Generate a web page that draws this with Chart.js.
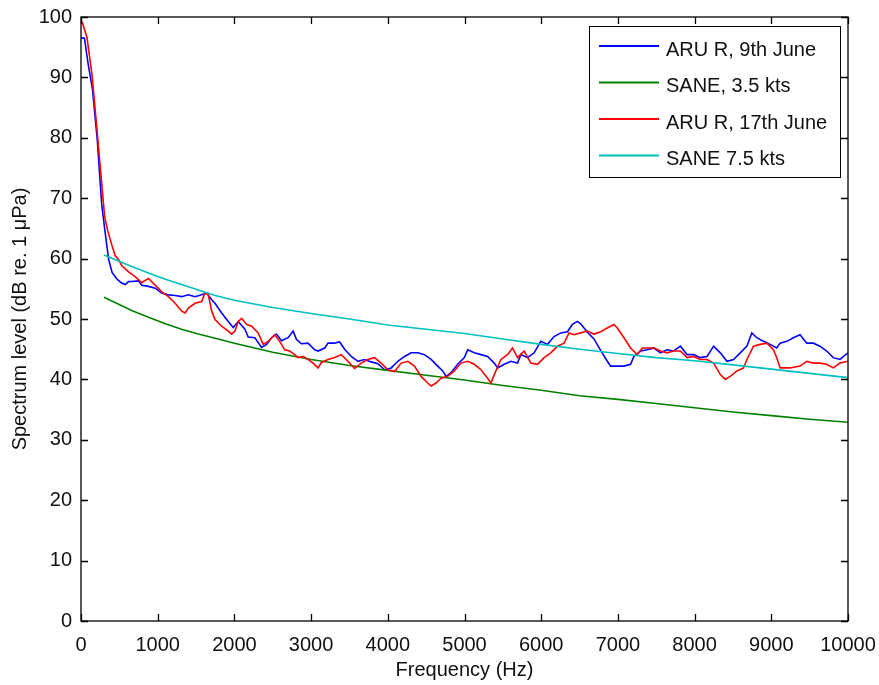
<!DOCTYPE html>
<html>
<head>
<meta charset="utf-8">
<script src="https://cdn.jsdelivr.net/npm/chart.js@4"></script>
<style>
  body { margin: 0; background: #fff; }
  #wrap { width: 879px; height: 685px; }
</style>
</head>
<body>
<div id="wrap"><canvas id="myChart" width="879" height="685"></canvas></div>
<script>
// ARU R, 9th June
const aru9Freq = [0, 45, 90, 150, 210, 270, 315, 360, 405, 470, 525, 576, 620, 663, 750, 793, 880, 967, 1053, 1140,
  1227, 1313, 1400, 1487, 1573, 1638, 1704, 1747, 1834, 1920, 1985, 2050, 2137, 2180, 2267, 2354, 2420, 2484, 2549, 2614,
  2700, 2766, 2810, 2874, 2960, 3047, 3090, 3177, 3221, 3300, 3372, 3437, 3524, 3611, 3697, 3784, 3871, 3957, 4044, 4131,
  4218, 4304, 4391, 4478, 4564, 4651, 4716, 4760, 4824, 4911, 4998, 5042, 5128, 5215, 5301, 5388, 5432, 5518, 5605, 5691,
  5735, 5822, 5908, 5995, 6082, 6168, 6255, 6342, 6407, 6472, 6515, 6602, 6688, 6775, 6862, 6905, 6992, 7079, 7165, 7208,
  7295, 7382, 7469, 7555, 7642, 7728, 7815, 7902, 7988, 8075, 8162, 8248, 8335, 8422, 8508, 8595, 8682, 8746, 8811, 8898,
  8985, 9071, 9115, 9202, 9288, 9375, 9462, 9548, 9635, 9722, 9808, 9895, 10000];
const aru9Level = [96.5, 96.5, 92.5, 88, 80, 69, 64.3, 59.9, 57.7, 56.6, 56.0, 55.7, 56.2, 56.2, 56.3, 55.6, 55.4, 55.1, 54.3, 54.0,
  53.9, 53.7, 54.0, 53.7, 54.0, 54.3, 53.2, 52.6, 51.0, 49.6, 48.6, 49.6, 48.3, 47.0, 46.9, 45.3, 45.8, 46.9, 47.5, 46.4,
  46.9, 48.0, 46.6, 45.9, 46.0, 44.9, 44.7, 45.2, 46.0, 46.0, 46.2, 45.0, 43.8, 43.0, 43.3, 42.9, 42.6, 41.6, 41.9, 43.0,
  43.8, 44.4, 44.4, 44.1, 43.3, 42.2, 41.4, 40.5, 41.1, 42.5, 43.6, 44.9, 44.4, 44.1, 43.8, 42.7, 41.9, 42.5, 43.0, 42.7,
  44.1, 43.6, 44.4, 46.3, 45.8, 47.1, 47.7, 47.9, 49.1, 49.6, 49.2, 47.8, 46.7, 44.8, 43.0, 42.2, 42.2, 42.2, 42.5, 43.8,
  44.7, 44.9, 45.2, 44.4, 44.9, 44.7, 45.5, 44.1, 44.1, 43.6, 43.8, 45.5, 44.4, 43.0, 43.3, 44.4, 45.5, 47.7, 46.9, 46.3,
  45.8, 45.2, 46.0, 46.3, 46.9, 47.4, 46.0, 46.0, 45.5, 44.7, 43.6, 43.3, 44.4];

// ARU R, 17th June
const aru17Freq = [0, 20, 78, 143, 208, 273, 308, 351, 403, 446, 490, 533, 620, 706, 793, 837, 880, 967, 1053, 1140,
  1227, 1313, 1357, 1400, 1487, 1573, 1617, 1660, 1704, 1747, 1834, 1920, 1964, 2007, 2050, 2094, 2160, 2224, 2310, 2375,
  2440, 2527, 2590, 2657, 2720, 2787, 2830, 2896, 2960, 3026, 3090, 3134, 3221, 3300, 3394, 3480, 3567, 3654, 3741, 3827,
  3914, 4001, 4088, 4174, 4261, 4348, 4434, 4521, 4564, 4629, 4694, 4781, 4868, 4954, 5041, 5128, 5215, 5301, 5345, 5388,
  5475, 5561, 5626, 5691, 5778, 5865, 5952, 6038, 6125, 6212, 6298, 6363, 6428, 6515, 6602, 6688, 6775, 6862, 6949, 6992,
  7079, 7165, 7252, 7317, 7382, 7469, 7555, 7642, 7728, 7815, 7902, 7988, 8075, 8162, 8248, 8335, 8400, 8465, 8552, 8638,
  8682, 8768, 8855, 8942, 9028, 9071, 9115, 9245, 9375, 9462, 9548, 9635, 9722, 9808, 9895, 10000];
const aru17Level = [99.5, 99, 96.6, 90.5, 81.4, 72.0, 67.0, 64.5, 62.2, 60.5, 59.8, 58.8, 57.8, 57.0, 56.0, 56.4, 56.7, 55.6, 54.5, 53.7,
  52.6, 51.3, 51.0, 51.8, 52.6, 52.9, 54.3, 54.0, 51.3, 49.9, 48.8, 48.0, 47.5, 48.0, 49.6, 50.1, 49.1, 48.8, 47.7, 45.8,
  46.3, 47.4, 46.3, 44.9, 44.7, 44.1, 43.6, 43.8, 43.3, 42.7, 41.9, 42.8, 43.3, 43.6, 44.1, 43.0, 41.8, 42.7, 43.3, 43.6,
  42.7, 41.6, 41.3, 42.7, 43.0, 42.2, 40.5, 39.4, 38.9, 39.4, 40.2, 40.5, 41.4, 42.7, 43.0, 42.5, 41.6, 40.2, 39.4, 40.8,
  43.3, 44.1, 45.2, 43.6, 44.7, 42.7, 42.5, 43.6, 44.4, 45.5, 46.0, 47.7, 47.4, 47.7, 48.0, 47.5, 47.9, 48.5, 49.1, 48.5,
  46.9, 45.2, 44.1, 45.2, 45.2, 45.2, 44.7, 44.4, 44.7, 44.7, 43.6, 43.8, 43.3, 43.3, 42.7, 40.8, 40.0, 40.5, 41.4, 41.9,
  43.3, 45.5, 45.8, 46.0, 44.9, 43.6, 41.9, 41.9, 42.2, 43.0, 42.7, 42.7, 42.5, 41.9, 42.7, 43.0];

// SANE model curves
const saneFreq = [300, 450, 660, 880, 1100, 1310, 1530, 1750, 2000, 2500, 3000, 3500, 4000, 4500, 5000,
  5500, 6000, 6500, 7000, 7500, 8000, 8500, 9000, 9500, 10000];
const sane35Level = [53.6, 52.7, 51.4, 50.3, 49.2, 48.3, 47.5, 46.8, 46.0, 44.5, 43.3, 42.3, 41.5, 40.7, 39.9,
  39.0, 38.2, 37.3, 36.7, 36.0, 35.3, 34.6, 34.0, 33.4, 32.9];
const sane75Level = [60.6, 59.8, 58.7, 57.6, 56.6, 55.7, 54.8, 53.9, 53.1, 51.9, 50.9, 50.0, 49.0, 48.3, 47.6,
  46.7, 45.8, 45.0, 44.3, 43.6, 43.1, 42.4, 41.7, 41.0, 40.3];

const seriesNames = ['ARU R, 9th June', 'SANE, 3.5 kts', 'ARU R, 17th June', 'SANE 7.5 kts'];
const seriesColors = ['#0000ff', '#008000', '#ff0000', '#00bfbf'];

function pts(xs, ys) {
  return xs.map((x, i) => ({ x: x, y: ys[i] }));
}

const FONT = 'Liberation Sans, Arial, sans-serif';

// box round the axes with inward ticks, like the old MATLAB look
const framePlugin = {
  id: 'frame',
  afterDraw(chart) {
    const ctx = chart.ctx;
    const a = chart.chartArea;
    const xs = chart.scales.x, ys = chart.scales.y;
    const tl = 7;
    ctx.save();
    ctx.strokeStyle = '#000';
    ctx.lineWidth = 1.3;
    ctx.strokeRect(a.left, a.top, a.right - a.left, a.bottom - a.top);
    ctx.beginPath();
    xs.ticks.forEach(t => {
      const px = Math.round(xs.getPixelForValue(t.value)) + 0.5;
      ctx.moveTo(px, a.bottom); ctx.lineTo(px, a.bottom - tl);
      ctx.moveTo(px, a.top); ctx.lineTo(px, a.top + tl);
    });
    ys.ticks.forEach(t => {
      const py = Math.round(ys.getPixelForValue(t.value)) + 0.5;
      ctx.moveTo(a.left, py); ctx.lineTo(a.left + tl, py);
      ctx.moveTo(a.right, py); ctx.lineTo(a.right - tl, py);
    });
    ctx.stroke();

    // legend box, top right inside the axes
    const bx = 589, by = 26, bw = 251, bh = 151;
    ctx.fillStyle = '#fff';
    ctx.fillRect(bx, by, bw, bh);
    ctx.lineWidth = 1;
    ctx.strokeRect(bx + 0.5, by + 0.5, bw, bh);
    ctx.font = '20px ' + FONT;
    ctx.textBaseline = 'middle';
    ctx.textAlign = 'left';
    chart.data.datasets.forEach((ds, i) => {
      const yy = 46 + i * 36.5;
      ctx.strokeStyle = ds.borderColor;
      ctx.lineWidth = 2;
      ctx.beginPath();
      ctx.moveTo(599, yy); ctx.lineTo(659, yy);
      ctx.stroke();
      ctx.fillStyle = '#111';
      ctx.fillText(ds.label, 666, yy + 4);
    });
    ctx.restore();
  }
};

const ctx = document.getElementById('myChart');

new Chart(ctx, {
  type: 'line',
  data: {
    datasets: [
      { label: seriesNames[0], data: pts(aru9Freq, aru9Level), borderColor: seriesColors[0], order: 3 },
      { label: seriesNames[1], data: pts(saneFreq, sane35Level), borderColor: seriesColors[1], order: 2 },
      { label: seriesNames[2], data: pts(aru17Freq, aru17Level), borderColor: seriesColors[2], order: 1 },
      { label: seriesNames[3], data: pts(saneFreq, sane75Level), borderColor: seriesColors[3], order: 0 }
    ]
  },
  options: {
    responsive: false,
    animation: false,
    layout: { padding: { top: 17, right: 31, left: 0, bottom: 0 } },
    elements: {
      point: { radius: 0 },
      line: { borderWidth: 1.6, tension: 0, fill: false }
    },
    plugins: {
      legend: { display: false },
      tooltip: { enabled: false }
    },
    scales: {
      x: {
        type: 'linear',
        min: 0,
        max: 10000,
        grid: { display: false, drawTicks: false },
        border: { display: false },
        ticks: {
          stepSize: 1000,
          padding: 12,
          color: '#111',
          maxRotation: 0,
          font: { family: FONT, size: 20 },
          callback: v => String(v)
        },
        title: {
          display: true,
          text: 'Frequency (Hz)',
          color: '#111',
          font: { family: FONT, size: 20 },
          padding: { top: 0, bottom: 3 }
        },
        afterFit: s => { s.height = 64; s.paddingLeft = 0; s.paddingRight = 0; }
      },
      y: {
        min: 0,
        max: 100,
        grid: { display: false, drawTicks: false },
        border: { display: false },
        ticks: {
          stepSize: 10,
          padding: 9,
          color: '#111',
          font: { family: FONT, size: 20 }
        },
        title: {
          display: true,
          text: 'Spectrum level (dB re. 1 μPa)',
          color: '#111',
          font: { family: FONT, size: 20 },
          padding: { top: 8, bottom: 0 }
        },
        afterFit: s => { s.width = 81; s.paddingTop = 0; s.paddingBottom = 0; }
      }
    }
  },
  plugins: [framePlugin]
});
</script>
</body>
</html>
